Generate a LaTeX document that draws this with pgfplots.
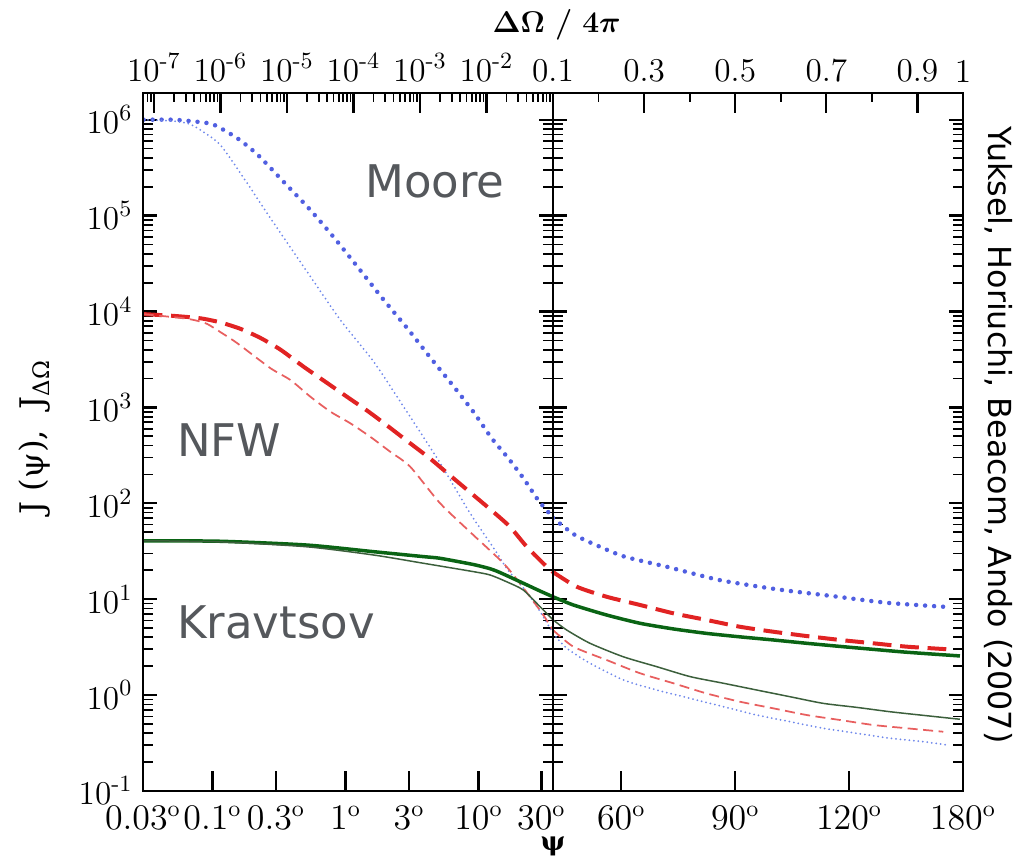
\documentclass[border=0pt]{standalone}
\usepackage{pgfplots}
\pgfplotsset{compat=1.18}
\usepackage{fontspec}
\usepackage{bm}
\newfontfamily\djsans{DejaVu Sans}
\newfontfamily\djserif{DejaVu Serif}
\definecolor{mooreC}{RGB}{80,95,225}
\definecolor{mooreT}{RGB}{110,135,235}
\definecolor{nfwC}{RGB}{225,35,35}
\definecolor{nfwT}{RGB}{232,95,95}
\definecolor{kravC}{RGB}{10,100,20}
\definecolor{kravT}{RGB}{60,95,60}
\definecolor{lab}{RGB}{85,88,92}
\pgfplotsset{
  panel/.style={
    scale only axis, width=164pt, height=279.2pt, anchor=south west,
    ymin=0.1, ymax=1.9e6,
    axis line style={line width=1.1pt},
    tick style={black, line width=0.9pt},
    minor tick style={line width=0.7pt},
    tick align=inside,
    major tick length=5.5pt, minor tick length=4pt,
    ticklabel style={font=\fontsize{13.3}{15}\selectfont, inner sep=1pt},
  },
  yax/.style={
    ytick={0.1,1,10,100,1000,10000,100000,1000000},
    minor ytick={0.2,0.3,0.4,0.5,0.6,0.7,0.8,0.9,2,3,4,5,6,7,8,9,20,30,40,50,60,70,80,90,200,300,400,500,600,700,800,900,2000,3000,4000,5000,6000,7000,8000,9000,20000,30000,40000,50000,60000,70000,80000,90000,200000,300000,400000,500000,600000,700000,800000,900000},
    xmajorticks=false, xminorticks=false,
    yticklabel style={xshift=-3pt},
  },
  xonly/.style={ymajorticks=false, yminorticks=false, major tick length=8pt, minor tick length=3.5pt},
  mooreThick/.style={color=mooreC, line width=1.8pt, line cap=round, dash pattern=on 0pt off 3.6pt, smooth, tension=0.4},
  mooreThin/.style={color=mooreT, line width=0.8pt, line cap=round, dash pattern=on 0pt off 1.8pt, smooth, tension=0.4},
  nfwThick/.style={color=nfwC, line width=1.6pt, dash pattern=on 7.5pt off 3.5pt, smooth, tension=0.4},
  nfwThin/.style={color=nfwT, line width=0.7pt, dash pattern=on 4pt off 2.2pt, smooth, tension=0.4},
  kravThick/.style={color=kravC, line width=1.4pt, smooth, tension=0.4},
  kravThin/.style={color=kravT, line width=0.6pt, smooth, tension=0.4},
}
\begin{document}
\begin{tikzpicture}[x=1pt,y=1pt]
\useasboundingbox (0,0) rectangle (408.4,344.8);

% ---------------- left panel: data ----------------
\begin{axis}[panel, yax, at={(57.2pt,28.4pt)}, xmode=log, ymode=log, xmin=6.854e-8, xmax=0.1,
  yticklabels={10\textsuperscript{-1},10\textsuperscript{0},10\textsuperscript{1},10\textsuperscript{2},10\textsuperscript{3},10\textsuperscript{4},10\textsuperscript{5},10\textsuperscript{6}}]
\addplot[mooreThick] coordinates {(7.0e-8,1.0e6) (1.9e-7,1.0e6) (4.0e-7,9.6e5) (7.85e-7,8.9e5) (1.8e-6,6.4e5) (3.66e-6,4.29e5) (9.2e-6,2.2e5) (2.26e-5,1.14e5) (5.22e-5,5.79e4) (1.225e-4,2.77e4) (2.78e-4,1.35e4) (6.59e-4,6.56e3) (1.42e-3,3.33e3) (3.29e-3,1.62e3) (6.5e-3,880) (1.2e-2,476) (2.12e-2,296) (3.56e-2,184) (5.98e-2,108) (8.0e-2,85) (0.1,70.3)};
\addplot[mooreThin] coordinates {(7.0e-8,1.0e6) (1.9e-7,9.7e5) (3.5e-7,9.0e5) (6e-7,7.2e5) (1.0e-6,5.45e5) (2.01e-6,2.76e5) (6.37e-6,8.32e4) (2.01e-5,2.6e4) (6.37e-5,8.15e3) (2.01e-4,3.0e3) (5.66e-4,1.02e3) (2.01e-3,263) (5.66e-3,79) (1.34e-2,32.6) (2.1e-2,20.1) (3.78e-2,12.5) (6.34e-2,7.5) (0.1,4.4)};
\addplot[nfwThick] coordinates {(7.0e-8,9.4e3) (2.0e-7,9.0e3) (5e-7,8.5e3) (1.0e-6,7.7e3) (2.0e-6,6.6e3) (4.0e-6,5.3e3) (8.0e-6,4.0e3) (1.79e-5,2.65e3) (3.79e-5,1.85e3) (8.0e-5,1.29e3) (1.69e-4,902) (3.37e-4,630) (6.66e-4,438) (1.41e-3,294) (2.79e-3,197) (6.34e-3,122) (1.26e-2,81.6) (2.25e-2,57) (4.04e-2,35.2) (8.05e-2,21.8) (0.1,19.2)};
\addplot[nfwThin] coordinates {(7.0e-8,9.4e3) (2.84e-7,8.49e3) (4.5e-7,8.0e3) (6.38e-7,7.4e3) (1.0e-6,6.1e3) (1.8e-6,4.66e3) (5.67e-6,2.56e3) (1.13e-5,1.93e3) (2.26e-5,1.29e3) (4.51e-5,902) (9.0e-5,682) (1.79e-4,494) (3.57e-4,345) (7.13e-4,241) (2.01e-3,100) (6.34e-3,46.7) (2.01e-2,21.8) (6.34e-2,7.71) (0.1,4.77)};
\addplot[kravThick] coordinates {(7.0e-8,40.7) (1e-6,40.2) (2.01e-5,36.7) (2.01e-4,31.3) (1.13e-3,27.8) (2.01e-3,26.7) (6.34e-3,23.0) (1.13e-2,20.8) (1.59e-2,19.0) (3.56e-2,14.7) (6.34e-2,12.2) (0.1,10.6)};
\addplot[kravThin] coordinates {(7.0e-8,40.7) (1e-6,39.6) (2.01e-5,35.2) (2.01e-4,28.9) (1.13e-3,23.7) (6.34e-3,19.4) (1.13e-2,17.9) (2.01e-2,15.2) (3.56e-2,12.5) (6.34e-2,8.4) (0.1,6.1)};
\end{axis}
% left panel: bottom psi ticks
\begin{axis}[panel, xonly, at={(57.2pt,28.4pt)}, xmode=log, ymode=log, xmin=6.854e-8, xmax=0.1,
  xtick pos=left, xticklabel pos=left, xminorticks=false,
  xticklabel style={yshift=-5pt},
  xtick={6.854e-8,7.615e-7,6.854e-6,7.615e-5,6.852e-4,7.596e-3,0.066987},
  xticklabels={$0.03^{\mathrm{o}}$,$0.1^{\mathrm{o}}$,$0.3^{\mathrm{o}}$,$1^{\mathrm{o}}$,$3^{\mathrm{o}}$,$10^{\mathrm{o}}$,$30^{\mathrm{o}}$}]
\end{axis}
% left panel: top Delta Omega ticks
\begin{axis}[panel, xonly, at={(57.2pt,28.4pt)}, xmode=log, ymode=log, xmin=6.854e-8, xmax=0.1,
  xtick pos=right, xticklabel pos=right,
  xticklabel style={yshift=3pt},
  xtick={1e-7,1e-6,1e-5,1e-4,1e-3,1e-2,0.1},
  xticklabels={10\textsuperscript{-7},10\textsuperscript{-6},10\textsuperscript{-5},10\textsuperscript{-4},10\textsuperscript{-3},10\textsuperscript{-2},0.1},
  minor xtick={7e-8,8e-8,9e-8,2e-7,3e-7,4e-7,5e-7,6e-7,7e-7,8e-7,9e-7,2e-6,3e-6,4e-6,5e-6,6e-6,7e-6,8e-6,9e-6,2e-5,3e-5,4e-5,5e-5,6e-5,7e-5,8e-5,9e-5,2e-4,3e-4,4e-4,5e-4,6e-4,7e-4,8e-4,9e-4,2e-3,3e-3,4e-3,5e-3,6e-3,7e-3,8e-3,9e-3,2e-2,3e-2,4e-2,5e-2,6e-2,7e-2,8e-2,9e-2}]
\end{axis}

% ---------------- right panel: data ----------------
\begin{axis}[panel, yax, at={(221.2pt,28.4pt)}, ymode=log, xmin=0.1, xmax=1, yticklabels={}]
\addplot[mooreThick] coordinates {(0.1,70.3) (0.1483,46.7) (0.2032,35.2) (0.258,27.7) (0.3496,21.8) (0.4666,15.8) (0.591,12.7) (0.7117,10.8) (0.8324,9.18) (0.9567,8.35)};
\addplot[mooreThin] coordinates {(0.1,4.4) (0.1301,3.08) (0.1812,2.15) (0.2543,1.44) (0.3276,1.13) (0.4007,0.926) (0.4738,0.757) (0.5471,0.62) (0.6202,0.528) (0.6933,0.451) (0.7666,0.4) (0.8397,0.355) (0.9128,0.327) (0.9641,0.302)};
\addplot[nfwThick] coordinates {(0.1,19.2) (0.152,13.5) (0.2179,10.6) (0.291,8.71) (0.364,7.13) (0.4374,6.07) (0.5104,5.16) (0.5835,4.58) (0.6568,4.13) (0.7299,3.76) (0.803,3.47) (0.8763,3.2) (0.9641,3.01)};
\addplot[nfwThin] coordinates {(0.1,4.77) (0.1446,3.2) (0.2179,2.32) (0.291,1.69) (0.364,1.33) (0.4374,1.04) (0.5104,0.853) (0.5835,0.728) (0.6568,0.62) (0.7299,0.55) (0.803,0.488) (0.8763,0.451) (0.9567,0.415)};
\addplot[kravThick] coordinates {(0.1,10.6) (0.1446,8.71) (0.2179,6.84) (0.291,5.61) (0.364,4.9) (0.4374,4.4) (0.5104,4.05) (0.5835,3.76) (0.6568,3.47) (0.7299,3.22) (0.803,3.0) (0.8763,2.8) (0.9933,2.56)};
\addplot[kravThin] coordinates {(0.1,6.1) (0.1301,4.77) (0.1812,3.47) (0.2543,2.51) (0.3276,1.98) (0.4007,1.56) (0.4738,1.33) (0.5471,1.13) (0.6202,0.962) (0.6933,0.82) (0.7666,0.745) (0.8397,0.671) (0.9128,0.615) (0.9933,0.56)};
\end{axis}
% right panel: bottom psi ticks
\begin{axis}[panel, xonly, at={(221.2pt,28.4pt)}, ymode=log, xmin=0.1, xmax=1,
  xtick pos=left, xticklabel pos=left, xminorticks=false,
  xticklabel style={yshift=-5pt},
  xtick={0.25,0.5,0.75,1},
  xticklabels={$60^{\mathrm{o}}$,$90^{\mathrm{o}}$,$120^{\mathrm{o}}$,$180^{\mathrm{o}}$}]
\end{axis}
% right panel: top Delta Omega ticks
\begin{axis}[panel, xonly, at={(221.2pt,28.4pt)}, ymode=log, xmin=0.1, xmax=1,
  xtick pos=right, xticklabel pos=right,
  xticklabel style={yshift=3pt},
  xtick={0.3,0.5,0.7,0.9,1},
  xticklabels={0.3,0.5,0.7,0.9,1},
  minor xtick={0.2,0.4,0.6,0.8}]
\end{axis}

% ---------------- texts ----------------
\node[anchor=base west, inner sep=0, text=lab, font=\djsans\fontsize{18}{20}\selectfont] at (146,265.6) {Moore};
\node[anchor=base west, inner sep=0, text=lab, font=\djsans\fontsize{18}{20}\selectfont] at (70.7,162) {NFW};
\node[anchor=base west, inner sep=0, text=lab, font=\djsans\fontsize{18}{20}\selectfont] at (70.7,89.2) {Kravtsov};
\node[anchor=base west, inner sep=0, font=\fontsize{12.3}{14}\selectfont] at (196.8,331.6) {$\bm{\Delta\Omega}$ \textbf{/} $\bm{4\pi}$};
\node[anchor=base, rotate=90, inner sep=0, font=\djserif\fontsize{13}{15}\selectfont] at (17.2,170) {J (ψ), \ J\textsubscript{ΔΩ}};
\node[anchor=north, inner sep=0, font=\djserif\bfseries\fontsize{10.5}{12}\selectfont] at (221.2,10.4) {ψ};
\node[anchor=base, rotate=-90, inner sep=0, font=\djsans\fontsize{12.7}{14}\selectfont] at (395.2,170.8) {Yuksel, Horiuchi, Beacom, Ando (2007)};
\end{tikzpicture}
\end{document}
